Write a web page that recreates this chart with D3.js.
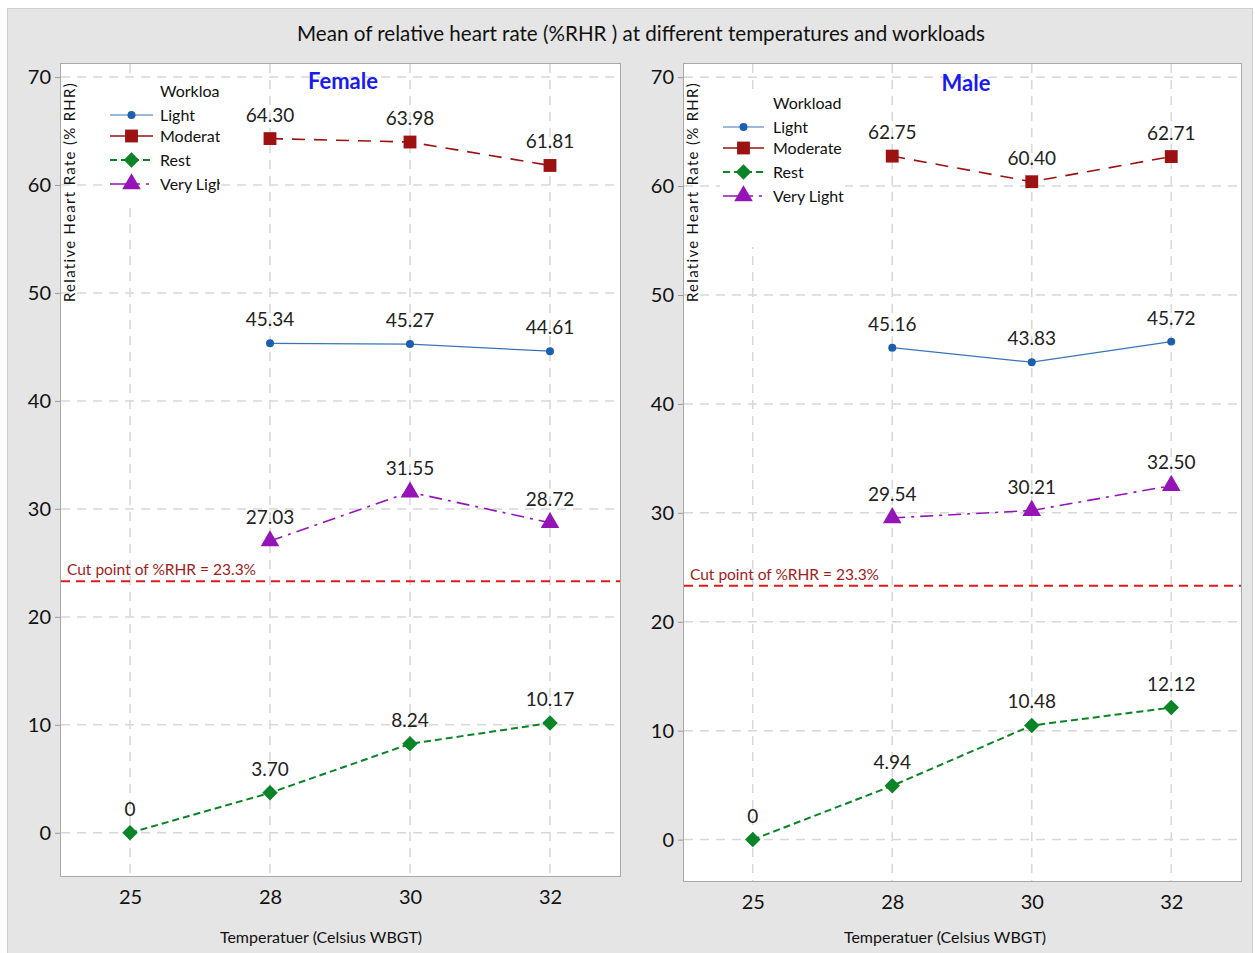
<!DOCTYPE html>
<html>
<head>
<meta charset="utf-8">
<script src="https://cdn.jsdelivr.net/npm/d3@7"></script>
<style>
  body { margin: 0; background: #fff; }
  svg text { font-family: Lato, "Open Sans", sans-serif; fill: #111; }
</style>
</head>
<body>
<svg id="chart" width="1255" height="953"></svg>
<script>
// values
const temps = ["25", "28", "30", "32"]
const workloads = ["Light", "Moderate", "Rest", "Very Light"]

const femaleLight = [null, 45.34, 45.27, 44.61]
const femaleModerate = [null, 64.30, 63.98, 61.81]
const femaleRest = [0, 3.70, 8.24, 10.17]
const femaleVeryLight = [null, 27.03, 31.55, 28.72]

const maleLight = [null, 45.16, 43.83, 45.72]
const maleModerate = [null, 62.75, 60.40, 62.71]
const maleRest = [0, 4.94, 10.48, 12.12]
const maleVeryLight = [null, 29.54, 30.21, 32.50]

const yTicks = [0, 10, 20, 30, 40, 50, 60, 70]
const cutPoint = 23.3

// rest uses a square turned 45 degrees
const styles = {
  "Light":      { color: "#1c5fae", width: 1.2, dash: null, legendDash: null, symbol: d3.symbolCircle, size: 50, rot: 0, lineColor: "#3a74b8" },
  "Moderate":   { color: "#9c1111", width: 1.6, dash: "13,9", legendDash: null, symbol: d3.symbolSquare, size: 165, rot: 0, lineColor: "#9c1111" },
  "Rest":       { color: "#0a8426", width: 2, dash: "7,4", legendDash: "7,4", symbol: d3.symbolSquare, size: 120, rot: 45, lineColor: "#0a8426" },
  "Very Light": { color: "#9414b8", width: 1.6, dash: "13,6,3,6", legendDash: "30,6,3,6", symbol: d3.symbolTriangle, size: 150, rot: 0, lineColor: "#9414b8" }
}

let svg = d3.select("#chart")

// gray frame
svg.append("rect")
    .attr("x", 7.5).attr("y", 8.5)
    .attr("width", 1245).attr("height", 950)
    .attr("fill", "#e5e5e5")
    .attr("stroke", "#cfcfcf")

svg.append("text")
    .attr("x", 641).attr("y", 41)
    .attr("text-anchor", "middle")
    .style("font-size", "20.6px")
    .text("Mean of relative heart rate (%RHR ) at different temperatures and workloads")

function drawPanel(p) {
  let x = d3.scalePoint().domain(temps).range([p.x0, p.x1]).padding(0.5)
  let y = d3.scaleLinear().domain(p.yDomain).range([p.y1, p.y0])

  let g = svg.append("g")

  g.append("rect")
      .attr("x", p.x0 + 0.5).attr("y", p.y0 + 0.5)
      .attr("width", p.x1 - p.x0).attr("height", p.y1 - p.y0)
      .attr("fill", "#fff")
      .attr("stroke", "#a9a9a9")

  // grid
  g.selectAll(".vgrid").data(temps).enter().append("line")
      .attr("x1", d => x(d)).attr("x2", d => x(d))
      .attr("y1", p.y0 + 1).attr("y2", p.y1)
      .attr("stroke", "#d8d8d8").attr("stroke-width", 1.5)
      .attr("stroke-dasharray", "9,7")

  // legend box hides vertical gridline
  g.append("rect")
      .attr("x", p.legend.box[0]).attr("y", p.legend.box[1])
      .attr("width", p.legend.box[2]).attr("height", p.legend.box[3])
      .attr("fill", "#fff")

  g.selectAll(".hgrid").data(yTicks).enter().append("line")
      .attr("x1", p.x0 + 1).attr("x2", p.x1)
      .attr("y1", d => y(d)).attr("y2", d => y(d))
      .attr("stroke", "#d8d8d8").attr("stroke-width", 1.5)
      .attr("stroke-dasharray", "9,7")

  g.append("rect")
      .attr("x", p.legend.box[0]).attr("y", p.legend.box[1] + 28)
      .attr("width", p.legend.box[2]).attr("height", p.legend.box[3] - 28)
      .attr("fill", "#fff")

  // axes
  let yAxis = g.append("g")
      .attr("transform", "translate(" + p.x0 + ",0)")
      .call(d3.axisLeft(y).tickValues(yTicks).tickSize(5).tickPadding(4))
  yAxis.select(".domain").remove()
  yAxis.selectAll("line").attr("stroke", "#9a9a9a")
  yAxis.selectAll("text").style("font-size", "20px").style("font-family", "Lato, sans-serif").attr("fill", "#111")

  let xAxis = g.append("g")
      .attr("transform", "translate(0," + p.y1 + ")")
      .call(d3.axisBottom(x).tickSize(0).tickPadding(14))
  xAxis.select(".domain").remove()
  xAxis.selectAll("text").style("font-size", "20px").style("font-family", "Lato, sans-serif").attr("fill", "#111")

  g.append("text")
      .attr("x", p.xTitleX).attr("y", 943)
      .attr("text-anchor", "middle")
      .style("font-size", "16px")
      .text("Temperatuer (Celsius WBGT)")

  g.append("text")
      .attr("transform", "translate(" + (p.x0 + 15) + ",192) rotate(-90)")
      .attr("text-anchor", "middle")
      .style("font-size", "15px")
      .style("letter-spacing", "1.3px")
      .text("Relative Heart Rate (% RHR)")

  g.append("text")
      .attr("x", p.titleX).attr("y", p.titleY)
      .attr("text-anchor", "middle")
      .style("font-size", "22px").style("font-weight", "bold")
      .style("fill", "#1a1aee")
      .text(p.title)

  // cut point line
  g.append("line")
      .attr("x1", p.x0 + 1).attr("x2", p.x1)
      .attr("y1", y(cutPoint)).attr("y2", y(cutPoint))
      .attr("stroke", "#e01a1a").attr("stroke-width", 2)
      .attr("stroke-dasharray", "9,6")

  g.append("text")
      .attr("x", p.x0 + 7).attr("y", y(cutPoint) - 6)
      .style("font-size", "15.5px").style("fill", "#a01c1c")
      .text("Cut point of %RHR = " + cutPoint + "%")

  // series
  workloads.forEach(function(w, i) {
    let s = styles[w]
    let pts = p.series[i].map((v, j) => ({ t: temps[j], v: v })).filter(d => d.v !== null)

    let line = d3.line()
      .x(d => x(d.t))
      .y(d => y(d.v))

    g.append("path")
        .attr("d", line(pts))
        .attr("fill", "none")
        .attr("stroke", s.lineColor)
        .attr("stroke-width", s.width)
        .attr("stroke-dasharray", s.dash)

    g.selectAll(".m" + i).data(pts).enter().append("path")
        .attr("d", d3.symbol().type(s.symbol).size(s.size))
        .attr("transform", d => "translate(" + x(d.t) + "," + y(d.v) + ") rotate(" + s.rot + ")")
        .attr("fill", s.color)

    g.selectAll(".l" + i).data(pts).enter().append("text")
        .attr("x", d => x(d.t))
        .attr("y", d => y(d.v) - 17)
        .attr("text-anchor", "middle")
        .style("font-size", "19px")
        .style("fill", "#222")
        .text(d => d.v === 0 ? "0" : d.v.toFixed(2))
  })

  // legend
  let clipId = "clip" + p.title
  svg.append("clipPath").attr("id", clipId)
    .append("rect")
      .attr("x", p.legend.box[0]).attr("y", p.legend.box[1])
      .attr("width", p.legend.box[2]).attr("height", p.legend.box[3])

  let lg = g.append("g").attr("clip-path", "url(#" + clipId + ")")
  let L = p.legend

  lg.append("text")
      .attr("x", L.textX).attr("y", L.titleY)
      .style("font-size", "16px")
      .text("Workload")

  workloads.forEach(function(w, i) {
    let s = styles[w]
    let cy = L.rows[i]
    lg.append("line")
        .attr("x1", L.lineX0).attr("x2", L.lineX1)
        .attr("y1", cy).attr("y2", cy)
        .attr("stroke", s.lineColor)
        .attr("stroke-width", s.width)
        .attr("stroke-dasharray", s.legendDash)
    lg.append("path")
        .attr("d", d3.symbol().type(s.symbol).size(s.size))
        .attr("transform", "translate(" + ((L.lineX0 + L.lineX1) / 2) + "," + cy + ") rotate(" + s.rot + ")")
        .attr("fill", s.color)
    lg.append("text")
        .attr("x", L.textX).attr("y", cy + 6)
        .style("font-size", "16px")
        .text(w)
  })
}

drawPanel({
  title: "Female", titleX: 343, titleY: 89,
  x0: 60, x1: 620, y0: 63, y1: 876, xTitleX: 321,
  yDomain: [-4.0, 71.3],
  series: [femaleLight, femaleModerate, femaleRest, femaleVeryLight],
  legend: { box: [107, 80, 113, 123], textX: 160, titleY: 97, lineX0: 110, lineX1: 153, rows: [115, 136, 160, 184] }
})

drawPanel({
  title: "Male", titleX: 966, titleY: 91,
  x0: 683, x1: 1241, y0: 63, y1: 881, xTitleX: 945,
  yDomain: [-3.8, 71.3],
  series: [maleLight, maleModerate, maleRest, maleVeryLight],
  legend: { box: [720, 90, 125, 157], textX: 773, titleY: 109, lineX0: 723, lineX1: 764, rows: [127, 148, 172, 196] }
})
</script>
</body>
</html>
